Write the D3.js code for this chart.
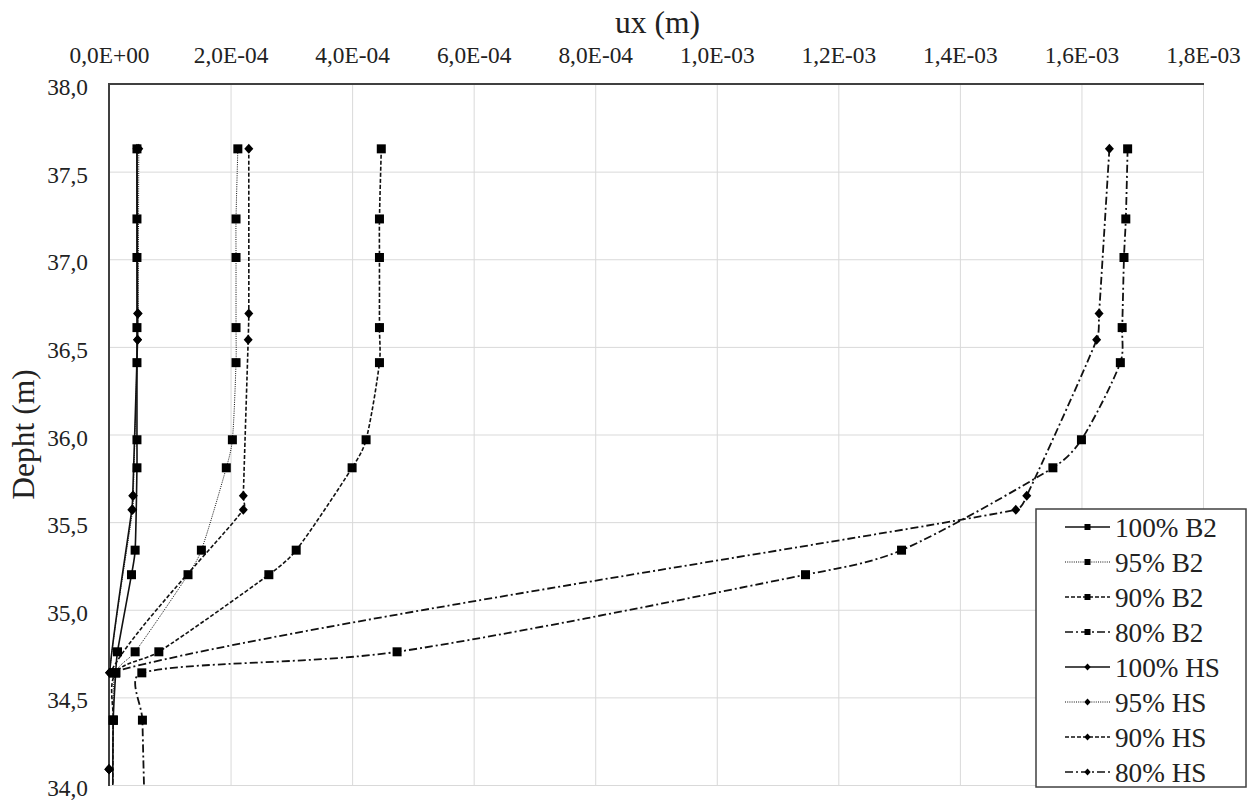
<!DOCTYPE html>
<html>
<head>
<meta charset="utf-8">
<script src="https://cdn.jsdelivr.net/npm/d3@7"></script>
<style>
  body { margin: 0; background: #fff; }
</style>
</head>
<body>
<svg id="chart"></svg>
<script>
// depths (m) of the output points
const depthB2 = [37.63, 37.23, 37.01, 36.61, 36.41, 35.97, 35.81, 35.34, 35.20, 34.76, 34.64, 34.37, 33.80];
const depthHS = [37.63, 36.69, 36.54, 35.65, 35.57, 34.64, 34.09, 33.50];

// horizontal displacement ux (m)
const ux100B2 = [4.6e-5, 4.6e-5, 4.6e-5, 4.6e-5, 4.6e-5, 4.6e-5, 4.6e-5, 4.3e-5, 3.7e-5, 1.4e-5, 1.1e-5, 7e-6, 6e-6];
const ux95B2 = [2.12e-4, 2.09e-4, 2.09e-4, 2.09e-4, 2.09e-4, 2.03e-4, 1.93e-4, 1.52e-4, 1.30e-4, 4.3e-5, 1.1e-5, 7e-6, 6e-6];
const ux90B2 = [4.48e-4, 4.45e-4, 4.45e-4, 4.45e-4, 4.45e-4, 4.23e-4, 4.00e-4, 3.08e-4, 2.63e-4, 8.2e-5, 1.1e-5, 7e-6, 6e-6];
const ux80B2 = [1.676e-3, 1.673e-3, 1.670e-3, 1.667e-3, 1.664e-3, 1.600e-3, 1.553e-3, 1.304e-3, 1.146e-3, 4.74e-4, 5.4e-5, 5.5e-5, 5.9e-5];
const ux100HS = [4.6e-5, 4.7e-5, 4.7e-5, 3.9e-5, 3.75e-5, 1e-6, 0, 0];
const ux95HS = [4.9e-5, 4.8e-5, 4.7e-5, 4.0e-5, 3.9e-5, 1e-6, 0, 0];
const ux90HS = [2.30e-4, 2.30e-4, 2.29e-4, 2.21e-4, 2.21e-4, 2e-6, 0, 0];
const ux80HS = [1.646e-3, 1.629e-3, 1.625e-3, 1.510e-3, 1.492e-3, 2e-6, 0, 0];

const seriesNames = ['100% B2', '95% B2', '90% B2', '80% B2', '100% HS', '95% HS', '90% HS', '80% HS'];

// axis ticks
const xTicks = [0, 2e-4, 4e-4, 6e-4, 8e-4, 1e-3, 1.2e-3, 1.4e-3, 1.6e-3, 1.8e-3];
const xTickLabels = ['0,0E+00', '2,0E-04', '4,0E-04', '6,0E-04', '8,0E-04', '1,0E-03', '1,2E-03', '1,4E-03', '1,6E-03', '1,8E-03'];
const yTicks = [34.0, 34.5, 35.0, 35.5, 36.0, 36.5, 37.0, 37.5, 38.0];
const yTickLabels = ['34,0', '34,5', '35,0', '35,5', '36,0', '36,5', '37,0', '37,5', '38,0'];

// find a Times-like font that is really installed
function pickFont(candidates) {
  const ctx = document.createElement('canvas').getContext('2d');
  const sample = 'Depht (m) ux 0,0E+00 100% HS mmmWWiil';
  const bases = ['monospace', 'sans-serif'];
  const baseW = bases.map((b) => { ctx.font = `72px ${b}`; return ctx.measureText(sample).width; });
  for (const c of candidates) {
    const found = bases.some((b, i) => {
      ctx.font = `72px "${c}", ${b}`;
      return ctx.measureText(sample).width !== baseW[i];
    });
    if (found) return c;
  }
  return null;
}
const picked = pickFont(['Liberation Serif', 'Tinos', 'Times New Roman', 'Nimbus Roman', 'FreeSerif', 'DejaVu Serif', 'Noto Serif']);
const FONT = picked ? `"${picked}", serif` : 'serif';

// build series table
const series = [
  { name: seriesNames[0], depth: depthB2, ux: ux100B2, marker: 'square', dash: null, width: 1.6 },
  { name: seriesNames[1], depth: depthB2, ux: ux95B2, marker: 'square', dash: '1,1.2', width: 1 },
  { name: seriesNames[2], depth: depthB2, ux: ux90B2, marker: 'square', dash: '4,2', width: 1.6 },
  { name: seriesNames[3], depth: depthB2, ux: ux80B2, marker: 'square', dash: '8,3,2,3', width: 1.8 },
  { name: seriesNames[4], depth: depthHS, ux: ux100HS, marker: 'diamond', dash: null, width: 1.6 },
  { name: seriesNames[5], depth: depthHS, ux: ux95HS, marker: 'diamond', dash: '1,1.2', width: 1 },
  { name: seriesNames[6], depth: depthHS, ux: ux90HS, marker: 'diamond', dash: '4,2', width: 1.6 },
  { name: seriesNames[7], depth: depthHS, ux: ux80HS, marker: 'diamond', dash: '8,3,2,3', width: 1.8 },
].map((s) => ({ ...s, points: s.depth.map((d, i) => ({ depth: d, ux: s.ux[i] })) }));

const width = 1256;
const height = 800;
const margin = { top: 84, right: 53, bottom: 15, left: 109 };
const chartWidth = width - margin.left - margin.right;
const chartHeight = height - margin.top - margin.bottom;

const root = d3.select('#chart').attr('width', width).attr('height', height)
  .style('font-family', FONT);
const svg = root.append('g').attr('transform', `translate(${margin.left}, ${margin.top})`);

// font size that gives a string the width it has in the original picture
function fitSize(str, targetWidth) {
  const t = root.append('text').style('font-size', '100px').text(str);
  const w = t.node().getComputedTextLength();
  t.remove();
  return w > 0 ? (100 * targetWidth) / w : 24;
}
const tickSize = fitSize(xTickLabels[0], 80);
const titleSize = fitSize('ux (m)', 85);
const legendSize = fitSize(seriesNames[0], 102);

const xScale = d3.scaleLinear().domain([0, 1.8e-3]).range([0, chartWidth]);
const yScale = d3.scaleLinear().domain([34, 38]).range([chartHeight, 0]);

// gridlines
svg.append('g')
  .selectAll('line')
  .data(xTicks)
  .enter()
  .append('line')
  .attr('x1', (d) => xScale(d) + 0.5)
  .attr('x2', (d) => xScale(d) + 0.5)
  .attr('y1', 0)
  .attr('y2', chartHeight)
  .attr('stroke', '#d9d9d9')
  .attr('stroke-width', 1);

svg.append('g')
  .selectAll('line')
  .data(yTicks)
  .enter()
  .append('line')
  .attr('x1', 0)
  .attr('x2', chartWidth)
  .attr('y1', (d) => yScale(d) + 0.5)
  .attr('y2', (d) => yScale(d) + 0.5)
  .attr('stroke', '#d9d9d9')
  .attr('stroke-width', 1);

// axes (top and left)
const xAxis = svg.append('g')
  .call(d3.axisTop(xScale).tickValues(xTicks).tickSize(0).tickPadding(21)
    .tickFormat((d, i) => xTickLabels[i]));
const yAxis = svg.append('g')
  .call(d3.axisLeft(yScale).tickValues(yTicks).tickSize(0).tickPadding(21)
    .tickFormat((d, i) => yTickLabels[i]));

[xAxis, yAxis].forEach((a) => {
  a.attr('font-family', null).attr('font-size', null);
  a.select('.domain').remove();
  a.selectAll('text')
    .style('font-family', FONT)
    .style('font-size', `${tickSize}px`)
    .attr('fill', '#222');
});
yAxis.selectAll('text').attr('dy', '0.45em');

// clip to plot area
svg.append('clipPath').attr('id', 'plot-clip')
  .append('rect').attr('x', 0).attr('y', 0).attr('width', chartWidth).attr('height', chartHeight);

// Excel-like smoothed line: Catmull-Rom tangents, control arms kept
// within a third of each segment so short steps do not loop
function smoothLine(points) {
  const P = points.map((d) => [xScale(d.ux), yScale(d.depth)]);
  const n = P.length;
  const T = P.map((pt, i) => {
    const a = P[Math.max(i - 1, 0)];
    const b = P[Math.min(i + 1, n - 1)];
    const k = i === 0 || i === n - 1 ? 1 : 0.5;
    return [(b[0] - a[0]) * k, (b[1] - a[1]) * k];
  });
  const arm = (pt, t, sign, len) => {
    let dx = t[0] / 3;
    let dy = t[1] / 3;
    const m = Math.hypot(dx, dy);
    const lim = len / 3;
    if (m > lim && m > 0) { dx *= lim / m; dy *= lim / m; }
    return [pt[0] + sign * dx, pt[1] + sign * dy];
  };
  const path = d3.path();
  path.moveTo(P[0][0], P[0][1]);
  for (let i = 0; i < n - 1; i++) {
    const a = P[i];
    const b = P[i + 1];
    const len = Math.hypot(b[0] - a[0], b[1] - a[1]);
    const c1 = arm(a, T[i], 1, len);
    const c2 = arm(b, T[i + 1], -1, len);
    path.bezierCurveTo(c1[0], c1[1], c2[0], c2[1], b[0], b[1]);
  }
  return path.toString();
}

const diamondPath = (h, w) => `M0,${-h}L${w},0L0,${h}L${-w},0Z`;

const plot = svg.append('g').attr('clip-path', 'url(#plot-clip)');
const marks = svg.append('g');

series.forEach((s) => {
  plot.append('path')
    .attr('fill', 'none')
    .attr('stroke', '#111')
    .attr('stroke-width', s.width)
    .attr('stroke-dasharray', s.dash)
    .attr('d', smoothLine(s.points));

  const pts = s.points.filter((d) => d.depth >= 34 && d.depth <= 38);
  const g = marks.append('g');
  if (s.marker === 'square') {
    g.selectAll('rect')
      .data(pts)
      .enter()
      .append('rect')
      .attr('x', (d) => xScale(d.ux) - 4.5)
      .attr('y', (d) => yScale(d.depth) - 4.5)
      .attr('width', 9)
      .attr('height', 9)
      .attr('fill', '#000');
  } else {
    g.selectAll('path')
      .data(pts)
      .enter()
      .append('path')
      .attr('transform', (d) => `translate(${xScale(d.ux)}, ${yScale(d.depth)})`)
      .attr('d', diamondPath(5, 4.5))
      .attr('fill', '#000');
  }
});

// plot borders: dark on the axis sides
svg.append('line')
  .attr('x1', -1).attr('x2', chartWidth + 1).attr('y1', 0).attr('y2', 0)
  .attr('stroke', '#404040').attr('stroke-width', 2);
svg.append('line')
  .attr('x1', 0).attr('x2', 0).attr('y1', 0).attr('y2', chartHeight + 1)
  .attr('stroke', '#404040').attr('stroke-width', 2);

marks.raise();

// axis titles
root.append('text')
  .attr('x', 657.5)
  .attr('y', 33)
  .style('text-anchor', 'middle')
  .style('font-size', `${titleSize}px`)
  .attr('fill', '#222')
  .text('ux (m)');

root.append('text')
  .attr('transform', `translate(34, ${margin.top + chartHeight / 2}) rotate(-90)`)
  .style('text-anchor', 'middle')
  .style('font-size', `${titleSize}px`)
  .attr('fill', '#222')
  .text('Depht (m)');

// legend
const legend = root.append('g').attr('transform', 'translate(1036, 509)');
legend.append('rect')
  .attr('width', 210)
  .attr('height', 278)
  .attr('fill', '#fff')
  .attr('stroke', '#404040')
  .attr('stroke-width', 1.5);

const item = legend.selectAll('.item')
  .data(series)
  .enter()
  .append('g')
  .attr('class', 'item')
  .attr('transform', (_, i) => `translate(0, ${18 + i * 35})`);

item.append('line')
  .attr('x1', 29)
  .attr('x2', 74)
  .attr('stroke', '#111')
  .attr('stroke-width', (d) => Math.min(d.width, 1.5))
  .attr('stroke-dasharray', (d) => d.dash);

item.filter((d) => d.marker === 'square')
  .append('rect')
  .attr('x', 48.5).attr('y', -3).attr('width', 6).attr('height', 6)
  .attr('fill', '#000');

item.filter((d) => d.marker === 'diamond')
  .append('path')
  .attr('transform', 'translate(51.5, 0)')
  .attr('d', diamondPath(3.5, 3.2))
  .attr('fill', '#000');

item.append('text')
  .attr('x', 79)
  .attr('dy', '0.35em')
  .style('font-size', `${legendSize}px`)
  .attr('fill', '#222')
  .text((d) => d.name);
</script>
</body>
</html>
